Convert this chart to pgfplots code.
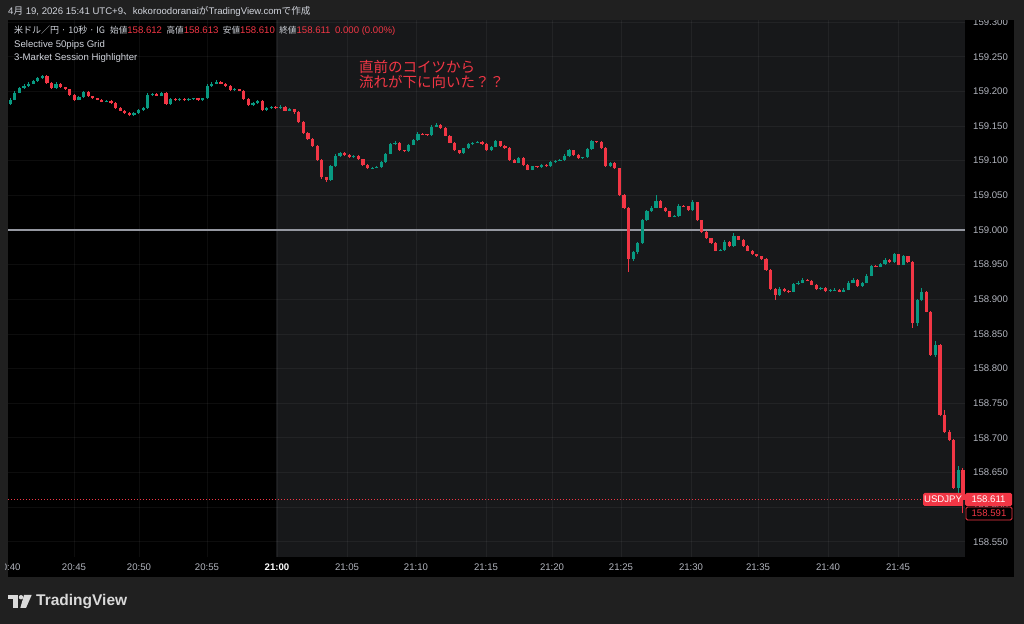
\documentclass[border=0pt]{standalone}
\usepackage{pgfplots}
\pgfplotsset{compat=1.18}
\usepackage{pgfplotstable}
\usepackage{fontspec}
\setmainfont{Liberation Sans}
\newfontfamily\cjk{Noto Sans CJK JP}
\definecolor{outerbg}{HTML}{202020}
\definecolor{plotbg}{HTML}{17181A}
\definecolor{gridc}{HTML}{FFFFFF}
\definecolor{tvgreen}{HTML}{089981}
\definecolor{tvred}{HTML}{F23645}
\definecolor{txt}{HTML}{D1D4DC}
\definecolor{ticktxt}{HTML}{B2B5BE}
\definecolor{fiftyline}{HTML}{9598A1}
\definecolor{logoc}{HTML}{DADADA}

% 20-second candles (index 0 = about 20:40:20), USD/JPY
\pgfplotstableread{
i o h l c
0 159.182 159.190 159.180 159.188
1 159.188 159.200 159.187 159.198
2 159.198 159.207 159.197 159.205
3 159.205 159.210 159.204 159.208
4 159.208 159.213 159.207 159.211
5 159.211 159.217 159.210 159.215
6 159.215 159.221 159.214 159.219
7 159.219 159.224 159.218 159.222
10 159.205 159.213 159.204 159.211
15 159.188 159.193 159.187 159.192
16 159.192 159.201 159.191 159.199
21 159.185 159.188 159.184 159.186
27 159.166 159.170 159.165 159.169
28 159.169 159.174 159.168 159.173
29 159.173 159.177 159.172 159.176
30 159.176 159.197 159.175 159.195
31 159.195 159.198 159.194 159.196
33 159.194 159.199 159.193 159.198
35 159.182 159.190 159.181 159.189
37 159.187 159.190 159.186 159.189
39 159.187 159.190 159.186 159.189
40 159.189 159.191 159.188 159.190
42 159.187 159.191 159.186 159.190
43 159.190 159.210 159.189 159.208
44 159.208 159.213 159.207 159.211
45 159.211 159.216 159.210 159.214
49 159.202 159.205 159.201 159.203
53 159.180 159.184 159.179 159.183
54 159.183 159.188 159.182 159.186
56 159.173 159.177 159.172 159.176
57 159.176 159.179 159.175 159.178
59 159.176 159.180 159.175 159.178
61 159.172 159.176 159.171 159.174
70 159.072 159.094 159.071 159.092
71 159.092 159.109 159.091 159.107
72 159.107 159.113 159.106 159.111
75 159.105 159.108 159.104 159.107
79 159.089 159.091 159.088 159.090
80 159.090 159.093 159.089 159.091
81 159.091 159.099 159.090 159.098
82 159.098 159.111 159.097 159.110
83 159.110 159.126 159.109 159.124
84 159.124 159.128 159.123 159.126
87 159.114 159.124 159.113 159.123
88 159.123 159.131 159.122 159.130
89 159.130 159.141 159.129 159.139
92 159.137 159.151 159.136 159.149
93 159.149 159.154 159.148 159.152
99 159.111 159.119 159.110 159.118
100 159.118 159.125 159.117 159.124
101 159.124 159.127 159.123 159.126
102 159.126 159.129 159.125 159.127
105 159.115 159.121 159.114 159.120
106 159.120 159.130 159.119 159.128
111 159.097 159.106 159.096 159.104
114 159.087 159.093 159.086 159.092
116 159.091 159.095 159.090 159.094
118 159.092 159.099 159.091 159.098
119 159.098 159.101 159.097 159.100
120 159.100 159.102 159.099 159.101
121 159.101 159.109 159.100 159.107
122 159.107 159.117 159.106 159.115
125 159.104 159.106 159.103 159.105
126 159.105 159.118 159.104 159.117
127 159.117 159.130 159.116 159.128
131 159.092 159.098 159.091 159.097
136 158.958 158.970 158.955 158.968
137 158.968 158.983 158.966 158.981
138 158.981 159.016 158.980 159.014
139 159.014 159.029 159.013 159.027
140 159.027 159.034 159.026 159.032
141 159.032 159.051 159.031 159.042
145 159.019 159.022 159.018 159.020
146 159.020 159.037 159.019 159.035
149 159.029 159.043 159.028 159.040
155 158.970 158.972 158.969 158.971
156 158.971 158.985 158.970 158.983
158 158.977 158.996 158.976 158.991
168 158.906 158.917 158.905 158.915
171 158.911 158.924 158.910 158.922
172 158.922 158.926 158.921 158.924
173 158.924 158.930 158.923 158.928
177 158.915 158.918 158.914 158.916
179 158.912 158.915 158.911 158.913
180 158.913 158.916 158.912 158.914
182 158.911 158.916 158.910 158.914
183 158.914 158.926 158.913 158.924
184 158.924 158.930 158.923 158.928
186 158.919 158.925 158.918 158.924
187 158.924 158.936 158.923 158.934
188 158.934 158.950 158.933 158.948
190 158.947 158.953 158.946 158.951
191 158.951 158.959 158.950 158.957
193 158.954 158.967 158.953 158.965
195 158.950 158.964 158.949 158.962
198 158.866 158.901 158.862 158.899
199 158.899 158.916 158.898 158.911
202 158.820 158.840 158.817 158.834
207 158.628 158.660 158.620 158.654
}\uptab

\pgfplotstableread{
i o h l c
8 159.222 159.223 159.211 159.212
9 159.212 159.213 159.204 159.205
11 159.211 159.212 159.205 159.206
12 159.206 159.207 159.202 159.203
13 159.203 159.204 159.194 159.195
14 159.195 159.196 159.186 159.188
17 159.199 159.200 159.192 159.193
18 159.193 159.194 159.189 159.190
19 159.190 159.191 159.187 159.188
20 159.188 159.189 159.184 159.185
22 159.186 159.187 159.182 159.183
23 159.183 159.184 159.175 159.176
24 159.176 159.177 159.171 159.172
25 159.172 159.173 159.168 159.169
26 159.169 159.170 159.164 159.166
32 159.196 159.197 159.193 159.194
34 159.198 159.199 159.181 159.182
36 159.189 159.190 159.186 159.187
38 159.189 159.190 159.186 159.187
41 159.190 159.191 159.186 159.187
46 159.214 159.215 159.210 159.211
47 159.211 159.212 159.207 159.208
48 159.208 159.209 159.201 159.202
50 159.203 159.204 159.200 159.201
51 159.201 159.202 159.188 159.189
52 159.189 159.190 159.179 159.180
55 159.186 159.187 159.171 159.173
58 159.178 159.179 159.175 159.176
60 159.178 159.179 159.171 159.172
62 159.174 159.175 159.168 159.170
63 159.170 159.171 159.155 159.156
64 159.156 159.157 159.139 159.140
65 159.140 159.141 159.130 159.131
66 159.131 159.132 159.120 159.121
67 159.121 159.122 159.100 159.101
68 159.101 159.102 159.074 159.076
69 159.076 159.077 159.069 159.072
73 159.111 159.112 159.107 159.108
74 159.108 159.109 159.104 159.105
76 159.107 159.108 159.101 159.102
77 159.102 159.103 159.093 159.094
78 159.094 159.095 159.088 159.089
85 159.126 159.127 159.114 159.115
86 159.115 159.116 159.113 159.114
90 159.139 159.140 159.137 159.138
91 159.138 159.139 159.136 159.137
94 159.152 159.153 159.146 159.147
95 159.147 159.148 159.135 159.136
96 159.136 159.137 159.125 159.126
97 159.126 159.127 159.114 159.115
98 159.115 159.116 159.110 159.111
103 159.127 159.128 159.123 159.124
104 159.124 159.125 159.114 159.115
107 159.128 159.129 159.120 159.121
108 159.121 159.122 159.117 159.118
109 159.118 159.119 159.100 159.101
110 159.101 159.102 159.096 159.097
112 159.104 159.105 159.093 159.094
113 159.094 159.095 159.086 159.087
115 159.092 159.093 159.090 159.091
117 159.094 159.095 159.091 159.092
123 159.115 159.116 159.107 159.108
124 159.108 159.109 159.103 159.104
128 159.128 159.129 159.126 159.127
129 159.127 159.128 159.117 159.118
130 159.118 159.119 159.091 159.092
132 159.097 159.098 159.088 159.089
133 159.089 159.090 159.049 159.051
134 159.051 159.052 159.030 159.032
135 159.032 159.033 158.939 158.958
142 159.042 159.043 159.031 159.032
143 159.032 159.033 159.026 159.027
144 159.027 159.028 159.018 159.019
147 159.035 159.036 159.033 159.034
148 159.034 159.035 159.028 159.029
150 159.040 159.041 159.013 159.014
151 159.014 159.015 158.996 158.997
152 158.997 158.998 158.987 158.988
153 158.988 158.989 158.980 158.981
154 158.981 158.982 158.969 158.970
157 158.983 158.984 158.976 158.977
159 158.991 158.992 158.985 158.986
160 158.986 158.987 158.976 158.977
161 158.977 158.978 158.969 158.970
162 158.970 158.971 158.964 158.965
163 158.965 158.966 158.961 158.962
164 158.962 158.963 158.957 158.958
165 158.958 158.959 158.941 158.942
166 158.942 158.943 158.913 158.915
167 158.915 158.916 158.899 158.906
169 158.915 158.916 158.910 158.912
170 158.912 158.913 158.909 158.911
174 158.928 158.929 158.926 158.927
175 158.927 158.928 158.920 158.921
176 158.921 158.922 158.914 158.915
178 158.916 158.917 158.911 158.912
181 158.914 158.915 158.910 158.911
185 158.928 158.929 158.918 158.919
189 158.948 158.949 158.946 158.947
192 158.957 158.958 158.953 158.954
194 158.965 158.966 158.949 158.950
196 158.962 158.963 158.953 158.954
197 158.954 158.955 158.859 158.866
200 158.911 158.912 158.881 158.882
201 158.882 158.883 158.818 158.820
203 158.834 158.835 158.731 158.733
204 158.733 158.740 158.707 158.709
205 158.709 158.711 158.695 158.697
206 158.697 158.698 158.626 158.628
208 158.654 158.656 158.591 158.611
}\downtab

\pgfplotsset{candle/.style={only marks, mark=*, mark size=0pt, mark options={draw=none, fill=none, opacity=0}}}

\begin{document}
\begin{tikzpicture}[x=1bp,y=1bp]
\fill[outerbg] (0,0) rectangle (1024,624);
\fill[plotbg] (8,67) rectangle (965,604);
\fill[black] (8,67) rectangle (276,604);
\fill[black] (965,47) rectangle (1014,604);
\fill[black] (8,47) rectangle (1014,67);

\begin{axis}[at={(8bp,67bp)}, anchor=south west, scale only axis,
  width=957bp, height=537bp,
  xmin=-0.5, xmax=208.45, ymin=158.5281, ymax=159.3030,
  axis line style={draw=none}, major tick length=0pt, tick style={draw=none},
  xtick={13.91,28.10,42.95,58.23,73.52,88.58,103.87,118.28,133.34,148.63,163.26,178.54,193.82},
  xticklabels={20:45,20:50,20:55,\textcolor{white}{\textbf{21:00}},21:05,21:10,21:15,21:20,21:25,21:30,21:35,21:40,21:45},
  ytick={158.55,158.60,158.65,158.70,158.75,158.80,158.85,158.90,158.95,159.00,159.05,159.10,159.15,159.20,159.25,159.30},
  yticklabels={158.550,158.600,158.650,158.700,158.750,158.800,158.850,158.900,158.950,159.000,159.050,159.100,159.150,159.200,159.250,159.300},
  yticklabel pos=right,
  grid=major, grid style={draw=gridc, draw opacity=0.05, line width=0.8bp},
  ticklabel style={font=\fontsize{9.6bp}{11bp}\selectfont, text=ticktxt, inner sep=0pt},
  xticklabel style={anchor=north, yshift=-6.5bp},
  yticklabel style={anchor=west, xshift=8bp},
]
% 50 pips line
\addplot[fiftyline, line width=1.6bp] coordinates {(-0.5,159.000) (208.45,159.000)};
% last price line
\addplot[tvred, line width=0.8bp, dash pattern=on 1bp off 2bp] coordinates {(-0.5,158.611) (199.3,158.611)};
% wicks
\addplot[tvgreen, candle, error bars/.cd, y dir=plus, y explicit, error mark=none,
  error bar style={line width=1bp, color=tvgreen}]
  table[x=i, y=l, y error plus expr=\thisrow{h}-\thisrow{l}] {\uptab};
\addplot[tvred, candle, error bars/.cd, y dir=plus, y explicit, error mark=none,
  error bar style={line width=1bp, color=tvred}]
  table[x=i, y=l, y error plus expr=\thisrow{h}-\thisrow{l}] {\downtab};
% bodies
\addplot[tvgreen, candle, error bars/.cd, y dir=plus, y explicit, error mark=none,
  error bar style={line width=3.2bp, color=tvgreen}]
  table[x=i, y=o, y error plus expr=\thisrow{c}-\thisrow{o}] {\uptab};
\addplot[tvred, candle, error bars/.cd, y dir=plus, y explicit, error mark=none,
  error bar style={line width=3.2bp, color=tvred}]
  table[x=i, y=c, y error plus expr=\thisrow{o}-\thisrow{c}] {\downtab};
\end{axis}

% covers
\fill[outerbg] (900,604) rectangle (1024,624);
\node[anchor=center, inner sep=0pt, text=ticktxt, font=\fontsize{9.6bp}{11bp}\selectfont] at (8.5,57) {20:40};
\fill[outerbg] (0,40) rectangle (5,70);

% header
\node[anchor=west, inner sep=0pt, text=txt, font=\fontsize{9.6bp}{11bp}\selectfont] at (8,613)
  {4{\cjk 月} 19, 2026 15:41 UTC+9{\cjk 、}kokoroodoranai{\cjk が}TradingView.com{\cjk で作成}};
% legend
\node[anchor=west, inner sep=0pt, text=txt, font=\fontsize{9.6bp}{11bp}\selectfont] at (14,593)
  {{\cjk\fontsize{9bp}{11bp}\selectfont 米ドル／円 · 10秒 · IG}\hspace{5bp}{\cjk\fontsize{8.6bp}{11bp}\selectfont 始値}\textcolor{tvred}{158.612}\hspace{4.5bp}{\cjk\fontsize{8.6bp}{11bp}\selectfont 高値}\textcolor{tvred}{158.613}\hspace{4.5bp}{\cjk\fontsize{8.6bp}{11bp}\selectfont 安値}\textcolor{tvred}{158.610}\hspace{4.5bp}{\cjk\fontsize{8.6bp}{11bp}\selectfont 終値}\textcolor{tvred}{158.611}\hspace{4.5bp}\textcolor{tvred}{0.000 (0.00\%)}};
\node[anchor=west, inner sep=0pt, text=txt, font=\fontsize{9.6bp}{11bp}\selectfont] at (14,579) {Selective 50pips Grid};
\node[anchor=west, inner sep=0pt, text=txt, font=\fontsize{9.6bp}{11bp}\selectfont] at (14,566) {3-Market Session Highlighter};

% annotation
\node[anchor=west, inner sep=0pt, text=tvred, font=\cjk\fontsize{14.5bp}{16bp}\selectfont] at (359,557) {直前のコイツから};
\node[anchor=west, inner sep=0pt, text=tvred, font=\cjk\fontsize{14.5bp}{16bp}\selectfont] at (359,542) {流れが下に向いた？？};

% price labels
\fill[tvred, rounded corners=1.5bp] (923,118) rectangle (963,131);
\node[text=white, inner sep=0pt, font=\fontsize{9.6bp}{11bp}\selectfont] at (943,124.5) {USDJPY};
\fill[tvred, rounded corners=1.5bp] (965,118) rectangle (1012,131);
\node[text=white, inner sep=0pt, font=\fontsize{9.6bp}{11bp}\selectfont] at (988.5,124.5) {158.611};
\filldraw[fill=black, draw=tvred, line width=0.8bp, rounded corners=1.5bp] (966,104) rectangle (1012,117);
\node[text=tvred, inner sep=0pt, font=\fontsize{9.6bp}{11bp}\selectfont] at (989,110.5) {158.591};

% TradingView logo
\fill[logoc] (8,24.5) rectangle (18.3,29);
\fill[logoc] (13.3,16) rectangle (18.3,29);
\fill[logoc] (21,26.8) circle (2.2);
\fill[logoc] (24,29) -- (31.7,29) -- (26,16) -- (20.3,16) -- cycle;
\node[anchor=base west, inner sep=0pt, text=logoc, font=\bfseries\fontsize{15.5bp}{17bp}\selectfont] at (36,18) {TradingView};

\pgfresetboundingbox
\path[use as bounding box] (0,0) rectangle (1024,624);
\end{tikzpicture}
\end{document}
